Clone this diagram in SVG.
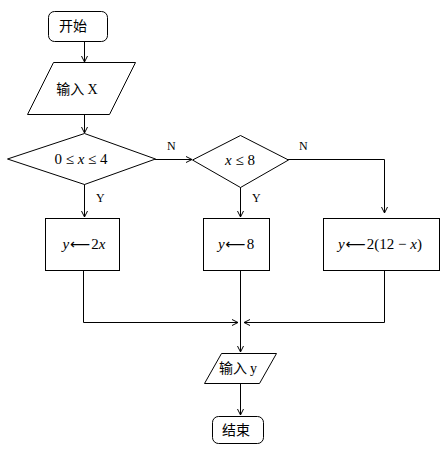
<svg xmlns="http://www.w3.org/2000/svg" width="444" height="468" viewBox="0 0 444 468">
<defs>
<marker id="ah" markerWidth="8" markerHeight="8" refX="7" refY="4" orient="auto" markerUnits="userSpaceOnUse">
<path d="M1,1 L7,4 L1,7" fill="none" stroke="#000" stroke-width="1"/>
</marker>
</defs>
<style>
.s{fill:#fff;stroke:#000;stroke-width:1}
.c{fill:none;stroke:#000;stroke-width:1}
.cn{font-family:"Noto Sans CJK SC","Noto Sans CJK JP",sans-serif;font-size:14px;text-anchor:middle;fill:#000}
.m{font-family:"Liberation Serif","Times New Roman",serif;font-size:15px;text-anchor:middle;fill:#000}
.a{font-family:"DejaVu Sans",sans-serif;font-size:14px}
.l{font-family:"Liberation Serif","Times New Roman",serif;font-size:12px;fill:#000}
</style>
<rect width="444" height="468" fill="#fff"/>
<g id="connectors">
<path class="c" d="M84.5,41 V62" marker-end="url(#ah)"/>
<path class="c" d="M84.5,114 V133" marker-end="url(#ah)"/>
<path class="c" d="M84.5,183 V217" marker-end="url(#ah)"/>
<path class="c" d="M155,159.5 H192" marker-end="url(#ah)"/>
<path class="c" d="M240.5,187 V217" marker-end="url(#ah)"/>
<path class="c" d="M288,159.5 H384.5 V213" marker-end="url(#ah)"/>
<path class="c" d="M83.5,270 V322.5 H238" marker-end="url(#ah)"/>
<path class="c" d="M384.5,270 V322.5 H244" marker-end="url(#ah)"/>
<path class="c" d="M240.5,270 V352" marker-end="url(#ah)"/>
<path class="c" d="M240.5,383 V415" marker-end="url(#ah)"/>
<text class="l" x="167" y="150">N</text>
<text class="l" x="299" y="150">N</text>
<text class="l" x="96" y="202">Y</text>
<text class="l" x="252" y="202">Y</text>
</g>
<g id="start">
<rect class="s" x="48.5" y="11.5" width="59" height="30" rx="6"/>
<text class="cn" x="73" y="31">开始</text>
</g>
<g id="input">
<polygon class="s" points="53.5,62.5 135.5,62.5 109.5,114.5 27.5,114.5"/>
<text class="cn" x="77" y="94">输入 <tspan font-family="Liberation Serif, serif">X</tspan></text>
</g>
<g id="cond1">
<polygon class="s" points="84.5,133.5 155.5,159 84.5,184.5 7.5,159"/>
<text class="m" x="81" y="164">0 ≤ <tspan font-style="italic">x</tspan> ≤ 4</text>
</g>
<g id="cond2">
<polygon class="s" points="240.5,135.5 288.5,160 240.5,187.5 192.5,160"/>
<text class="m" x="240" y="165"><tspan font-style="italic">x</tspan> ≤ 8</text>
</g>
<g id="box1">
<rect class="s" x="45.5" y="218.5" width="74" height="52"/>
<text class="m" x="84" y="249"><tspan font-style="italic">y</tspan><tspan class="a" dx="1">⟵</tspan><tspan dx="1">2</tspan><tspan font-style="italic">x</tspan></text>
</g>
<g id="box2">
<rect class="s" x="203.5" y="218.5" width="66" height="52"/>
<text class="m" x="236" y="249"><tspan font-style="italic">y</tspan><tspan class="a" dx="1">⟵</tspan><tspan dx="1">8</tspan></text>
</g>
<g id="box3">
<rect class="s" x="323.5" y="218.5" width="116" height="52"/>
<text class="m" x="380" y="249"><tspan font-style="italic">y</tspan><tspan class="a" dx="1">⟵</tspan><tspan dx="1">2(12 − </tspan><tspan font-style="italic">x</tspan>)</text>
</g>
<g id="output">
<polygon class="s" points="221.5,353.5 276.5,353.5 259.5,383.5 204.5,383.5"/>
<text class="cn" x="238" y="373" font-size="12">输入 <tspan font-family="Liberation Serif, serif">y</tspan></text>
</g>
<g id="end">
<rect class="s" x="212.5" y="416.5" width="51" height="27" rx="6"/>
<text class="cn" x="236" y="435">结束</text>
</g>
</svg>
